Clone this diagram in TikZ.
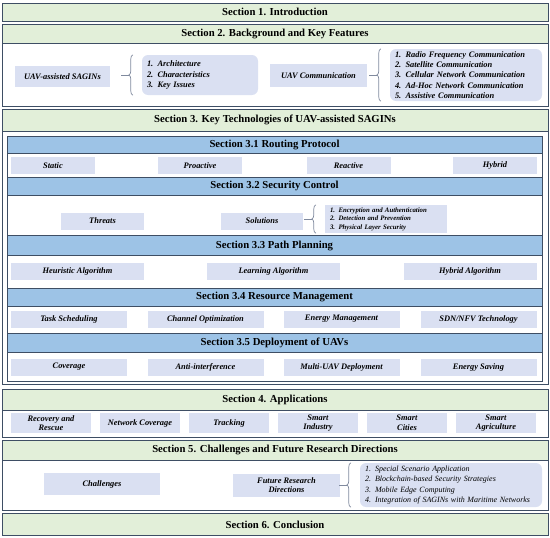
\documentclass[tikz,border=0pt]{standalone}
\usepackage{fontspec}
\setmainfont{Liberation Serif}
\usetikzlibrary{calc,positioning,decorations.pathreplacing}

\definecolor{framec}{RGB}{62,78,100}
\definecolor{secgreen}{RGB}{226,239,217}
\definecolor{subblue}{RGB}{157,195,230}
\definecolor{itemc}{RGB}{218,224,242}
\definecolor{bracec}{RGB}{128,138,158}

\tikzset{
  frame/.style={draw=framec, line width=1pt},
  sechead/.style={draw=framec, fill=secgreen, line width=1pt, minimum width=546, inner sep=0pt,
    font=\bfseries\fontsize{10.7}{12}\selectfont},
  subhead/.style={draw=framec, fill=subblue, line width=0.9pt, minimum width=535, inner sep=0pt,
    font=\bfseries\fontsize{10.7}{12}\selectfont},
  item/.style={fill=itemc, minimum height=17, inner sep=1pt, align=center,
    font=\bfseries\itshape\fontsize{8.4}{9.5}\selectfont},
  listbox/.style={fill=itemc, rounded corners=6pt, align=left, inner xsep=5pt, inner ysep=2pt,
    font=\bfseries\itshape\fontsize{8.4}{10.4}\selectfont},
  brace/.style={draw=bracec, line width=0.7pt, decorate, decoration={brace, amplitude=4pt}},
  tick/.style={draw=bracec, line width=0.7pt}
}

% brace left of a list node
\newcommand\listbrace[1]{
  \draw[brace] ($(#1.south west)+(-9,0)$) -- ($(#1.north west)+(-9,0)$);
  \coordinate (#1-tip) at ($(#1.west)+(-13,0)$);
  \draw[tick] (#1-tip) -- ++(-8,0);
}

\begin{document}
\begin{tikzpicture}[x=1pt,y=-1pt]
  \useasboundingbox (0,0) rectangle (550,538);
  \def\wrp{84}
  \def\wpp{133}
  \def\wrm{116}
  \def\wapp{80}

  %%%%% Section 1 %%%%%
  \node[sechead, minimum height=18] (s1) at (275,12) {Section 1. Introduction};

  %%%%% Section 2 %%%%%
  \draw[frame] (2,24) rectangle (548,106);
  \node[sechead, minimum height=19] (s2) at (275,33.5) {Section 2. Background and Key Features};
  \node[item, minimum width=95, minimum height=21] (uavsag) at (62.5,76.5) {UAV-assisted SAGINs};
  \node[listbox, text width=106, minimum height=40] (feat) at (200,75)
    {1. Architecture\\2. Characteristics\\3. Key Issues};
  \listbrace{feat}
  \node[item, minimum width=97, minimum height=23] (uavcom) at (318.5,75.5) {UAV Communication};
  \node[listbox, text width=142, minimum height=52] (comm) at (466,75)
    {1. Radio Frequency Communication\\2. Satellite Communication\\3. Cellular Network Communication\\4. Ad-Hoc Network Communication\\5. Assistive Communication};
  \listbrace{comm}

  %%%%% Section 3 %%%%%
  \draw[frame] (2,109) rectangle (548,384);
  \node[sechead, minimum height=22] (s3) at (275,120) {Section 3. Key Technologies of UAV-assisted SAGINs};
  \draw[frame] (7,136) rectangle (542,381);

  % 3.1
  \node[subhead, minimum height=17] (s31) at (274.5,144.5) {Section 3.1 Routing Protocol};
  \node[item, minimum width=\wrp] (static) at (53,165.5) {Static};
  \node[item, minimum width=\wrp] (proactive) at (200,165.5) {Proactive};
  \node[item, minimum width=\wrp] (reactive) at (348.5,165.5) {Reactive};
  \node[item, minimum width=\wrp] (hybrid) at (495,165.5) {Hybrid};

  % 3.2
  \node[subhead, minimum height=18] (s32) at (274.5,186) {Section 3.2 Security Control};
  \node[item, minimum width=83] (threats) at (102.5,221) {Threats};
  \node[item, minimum width=82] (solutions) at (262,221) {Solutions};
  \node[listbox, rounded corners=0pt, text width=112, minimum height=28,
    font=\bfseries\itshape\fontsize{6.8}{8.4}\selectfont] (secure) at (386,219)
    {1. Encryption and Authentication\\2. Detection and Prevention\\3. Physical Layer Security};
  \listbrace{secure}

  % 3.3
  \node[subhead, minimum height=20] (s33) at (274.5,245.5) {Section 3.3 Path Planning};
  \node[item, minimum width=\wpp] (heuristic) at (77.5,271) {Heuristic Algorithm};
  \node[item, minimum width=\wpp] (learning) at (273.5,271) {Learning Algorithm};
  \node[item, minimum width=\wpp] (hybridalg) at (470,271) {Hybrid Algorithm};

  % 3.4
  \node[subhead, minimum height=18] (s34) at (274.5,297) {Section 3.4 Resource Management};
  \node[item, minimum width=\wrm] (task) at (69,319) {Task Scheduling};
  \node[item, minimum width=\wrm] (channel) at (205.5,319) {Channel Optimization};
  \node[item, minimum width=\wrm] (energy) at (341.5,319) {Energy Management};
  \node[item, minimum width=\wrm] (sdn) at (478.5,319) {SDN/NFV Technology};

  % 3.5
  \node[subhead, minimum height=19] (s35) at (274.5,342.5) {Section 3.5 Deployment of UAVs};
  \node[item, minimum width=\wrm] (coverage) at (69,367) {Coverage};
  \node[item, minimum width=\wrm] (anti) at (205.5,367) {Anti-interference};
  \node[item, minimum width=\wrm] (multi) at (341.5,367) {Multi-UAV Deployment};
  \node[item, minimum width=\wrm] (saving) at (478.5,367) {Energy Saving};

  %%%%% Section 4 %%%%%
  \draw[frame] (2,389) rectangle (548,437);
  \node[sechead, minimum height=21] (s4) at (275,399.5) {Section 4. Applications};
  \node[item, minimum width=\wapp, minimum height=20] (rescue) at (51,423) {Recovery and\\Rescue};
  \node[item, minimum width=\wapp, minimum height=20] (netcov) at (140,423) {Network Coverage};
  \node[item, minimum width=\wapp, minimum height=20] (tracking) at (229,423) {Tracking};
  \node[item, minimum width=\wapp, minimum height=20] (industry) at (318,423) {Smart\\Industry};
  \node[item, minimum width=\wapp, minimum height=20] (cities) at (407,423) {Smart\\Cities};
  \node[item, minimum width=\wapp, minimum height=20] (agri) at (496,423) {Smart\\Agriculture};

  %%%%% Section 5 %%%%%
  \draw[frame] (2,440) rectangle (548,510);
  \node[sechead, minimum height=20] (s5) at (275,450) {Section 5. Challenges and Future Research Directions};
  \node[item, minimum width=116, minimum height=22] (challenges) at (102,484) {Challenges};
  \node[item, minimum width=107, minimum height=23] (future) at (286.5,485) {Future Research\\Directions};
  \node[listbox, text width=172, minimum height=44,
    font=\itshape\fontsize{8}{10.4}\selectfont] (direct) at (451,485)
    {1. Special Scenario Application\\2. Blockchain-based Security Strategies\\3. Mobile Edge Computing\\4. Integration of SAGINs with Maritime Networks};
  \listbrace{direct}

  %%%%% Section 6 %%%%%
  \node[sechead, minimum height=22] (s6) at (275,524.5) {Section 6. Conclusion};
\end{tikzpicture}
\end{document}
